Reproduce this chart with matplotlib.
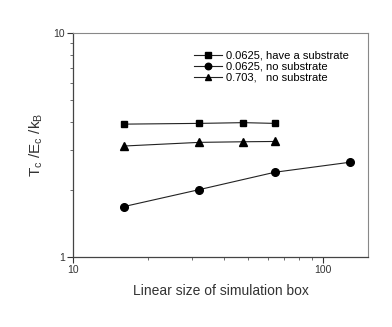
import matplotlib
matplotlib.use("Agg")
import matplotlib.pyplot as plt
from matplotlib.ticker import LogLocator, NullFormatter, FixedLocator, FixedFormatter

plt.rcParams['font.family'] = ['Liberation Sans', 'DejaVu Sans']
plt.rcParams['mathtext.fontset'] = 'custom'
plt.rcParams['mathtext.rm'] = 'Liberation Sans'
plt.rcParams['mathtext.it'] = 'Liberation Sans'

# data
size_sub = [16, 32, 48, 64]
tc_sub = [3.92, 3.95, 3.98, 3.95]

size_nosub = [16, 32, 64, 128]
tc_nosub = [1.68, 2.00, 2.39, 2.65]

size_703 = [16, 32, 48, 64]
tc_703 = [3.13, 3.25, 3.27, 3.28]

labels = ["0.0625, have a substrate", "0.0625, no substrate", "0.703,   no substrate"]

fig = plt.figure(figsize=(3.92, 3.27), dpi=100)
ax = fig.add_axes([0.186, 0.214, 0.753, 0.685])

lc = '#222222'
ax.plot(size_sub, tc_sub, '-s', color=lc, lw=0.8, ms=5, mfc='black', mec='black', label=labels[0])
ax.plot(size_nosub, tc_nosub, '-o', color=lc, lw=0.8, ms=5.5, mfc='black', mec='black', label=labels[1])
ax.plot(size_703, tc_703, '-^', color=lc, lw=0.8, ms=5.5, mfc='black', mec='black', label=labels[2])

ax.set_xscale('log')
ax.set_yscale('log')
ax.set_xlim(10, 151)
ax.set_ylim(1, 10)

ax.xaxis.set_major_locator(FixedLocator([10, 100]))
ax.xaxis.set_major_formatter(FixedFormatter(['10', '100']))
ax.xaxis.set_minor_locator(LogLocator(base=10, subs=range(2, 10)))
ax.xaxis.set_minor_formatter(NullFormatter())
ax.yaxis.set_major_locator(FixedLocator([1, 10]))
ax.yaxis.set_major_formatter(FixedFormatter(['1', '10']))
ax.yaxis.set_minor_locator(LogLocator(base=10, subs=range(2, 10)))
ax.yaxis.set_minor_formatter(NullFormatter())

ax.tick_params(which='major', direction='out', length=4, width=0.8, labelsize=7.5, colors='#333333', pad=2)
ax.tick_params(which='minor', direction='out', length=2, width=0.6, colors='#555555')

for side in ['top', 'right']:
    ax.spines[side].set_color('#888888')
    ax.spines[side].set_linewidth(0.8)
for side in ['left', 'bottom']:
    ax.spines[side].set_color('#444444')
    ax.spines[side].set_linewidth(0.9)

ax.set_xlabel('Linear size of simulation box', fontsize=10, color='#333333', labelpad=6)
ax.set_ylabel(r'T$_{\rm c}$ /E$_{\rm c}$ /k$_{\rm B}$', fontsize=11, color='#333333', labelpad=6)

ax.legend(loc='upper left', bbox_to_anchor=(0.41, 0.922), frameon=False, fontsize=8,
          handlelength=2.5, handletextpad=0.4, labelspacing=0.1, borderaxespad=0, borderpad=0,
          markerscale=0.85)

fig.savefig('out.png', dpi=100)
